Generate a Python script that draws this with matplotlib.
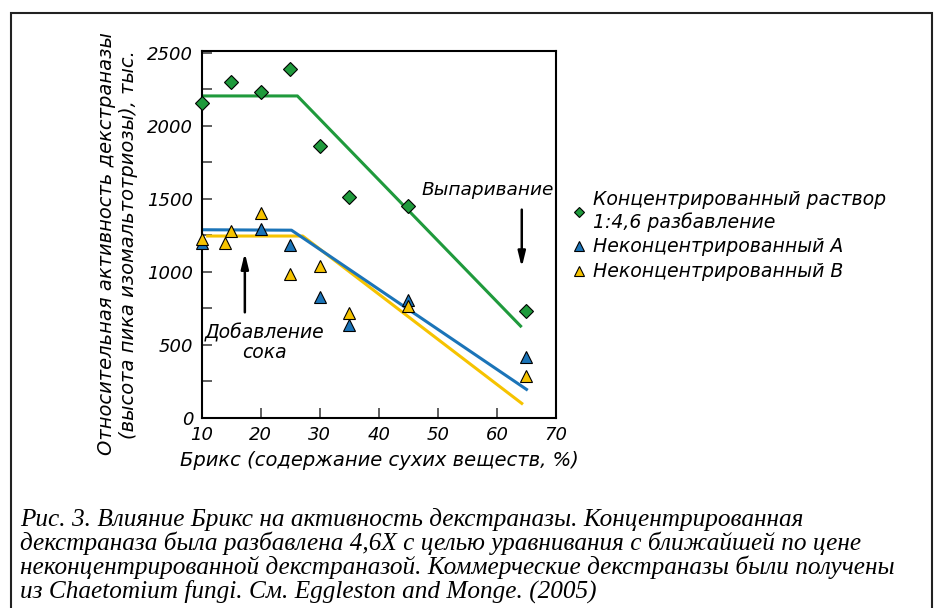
import numpy as np
import matplotlib
matplotlib.use('Agg')
import matplotlib.pyplot as plt
from matplotlib.patches import Rectangle
from matplotlib.ticker import MultipleLocator

# Брикс, % и активность декстраназы (тыс.)
conc_x = [10, 15, 20, 25, 30, 35, 45, 65]
conc_y = [2160, 2300, 2230, 2390, 1865, 1510, 1452, 731]

a_x = [10, 20, 25, 30, 35, 45, 65]
a_y = [1200, 1290, 1185, 830, 635, 810, 413]

b_x = [10, 14, 15, 20, 25, 30, 35, 45, 65]
b_y = [1222, 1200, 1280, 1404, 982, 1039, 719, 767, 288]

# ломаные тренды
conc_fit_x = [10, 26.2, 64.0]
conc_fit_y = [2205, 2205, 628]
a_fit_x = [10, 25.2, 65.0]
a_fit_y = [1288, 1285, 194]
b_fit_x = [11, 27.1, 64.2]
b_fit_y = [1245, 1245, 98]

x_ticks = [10, 20, 30, 40, 50, 60, 70]
y_ticks = [0, 500, 1000, 1500, 2000, 2500]

labels = ['Концентрированный раствор\n1:4,6 разбавление',
          'Неконцентрированный А',
          'Неконцентрированный В']

caption = ('Рис. 3. Влияние Брикс на активность декстраназы. Концентрированная\n'
           'декстраназа была разбавлена 4,6X с целью уравнивания с ближайшей по цене\n'
           'неконцентрированной декстраназой. Коммерческие декстраназы были получены\n'
           'из Chaetomium fungi. См. Eggleston and Monge. (2005)')

green = '#1f9a3c'
blue = '#1b74b8'
yellow = '#f6c300'

plt.rcParams['font.family'] = 'DejaVu Sans'
plt.rcParams['font.style'] = 'italic'

fig = plt.figure(figsize=(9.37, 6.08), dpi=100)
ax = fig.add_axes([0.2153, 0.3130, 0.3781, 0.6036])

ax.plot(conc_fit_x, conc_fit_y, color=green, lw=2.2, zorder=2)
ax.plot(b_fit_x, b_fit_y, color=yellow, lw=2.2, zorder=2)
ax.plot(a_fit_x, a_fit_y, color=blue, lw=2.2, zorder=2)

ax.plot(conc_x, conc_y, 'D', color=green, mec='black', mew=0.8, ms=7, zorder=4,
        clip_on=False, label=labels[0])
ax.plot(a_x, a_y, '^', color=blue, mec='black', mew=0.8, ms=8.5, zorder=3,
        clip_on=False, label=labels[1])
ax.plot(b_x, b_y, '^', color=yellow, mec='black', mew=0.8, ms=8.5, zorder=4,
        clip_on=False, label=labels[2])

ax.set_xlim(10, 70)
ax.set_ylim(0, 2515)
ax.set_xticks(x_ticks)
ax.set_yticks(y_ticks)
ax.yaxis.set_minor_locator(MultipleLocator(250))
ax.tick_params(direction='in', length=7, width=1.2, color='#444444', labelsize=13, pad=6)
ax.tick_params(axis='y', which='minor', direction='in', length=7, width=1.2, color='#444444')
for s in ax.spines.values():
    s.set_linewidth(1.5)

ax.set_xlabel('Брикс (содержание сухих веществ, %)', fontsize=14, labelpad=5)
fig.text(0.114, 0.60, 'Относительная активность декстраназы',
         rotation=90, ha='center', va='center', fontsize=14)
fig.text(0.137, 0.597, '(высота пика изомальтотриозы), тыс.',
         rotation=90, ha='center', va='center', fontsize=14)

# стрелки и подписи
ax.annotate('', xy=(64.2, 1012), xytext=(64.2, 1445),
            arrowprops=dict(arrowstyle='-|>,head_length=0.9,head_width=0.22', color='black', lw=1.8))
ax.text(69.6, 1560, 'Выпаривание', ha='right', va='center', fontsize=13.3)
ax.annotate('', xy=(17.3, 1148), xytext=(17.3, 703),
            arrowprops=dict(arrowstyle='-|>,head_length=0.9,head_width=0.22', color='black', lw=1.8))
ax.text(20.7, 515, 'Добавление\nсока', ha='center', va='center', fontsize=13.5, linespacing=1.0)

ax.legend(loc='upper left', bbox_to_anchor=(0.602, 0.70), bbox_transform=fig.transFigure,
          frameon=False, fontsize=13.6, handlelength=0.8, handletextpad=0.35,
          labelspacing=0.3, markerscale=0.8, borderaxespad=0)

fig.text(0.021, 0.087, caption, family='Liberation Serif', style='italic',
         fontsize=18.2, ha='left', va='center', linespacing=1.03)

fig.add_artist(Rectangle((11 / 937, -0.02), (932 - 11) / 937, 1 - 13 / 608 + 0.02,
                         transform=fig.transFigure, fill=False, lw=1.5, ec='#222222'))

fig.savefig('out.png', dpi=100)
